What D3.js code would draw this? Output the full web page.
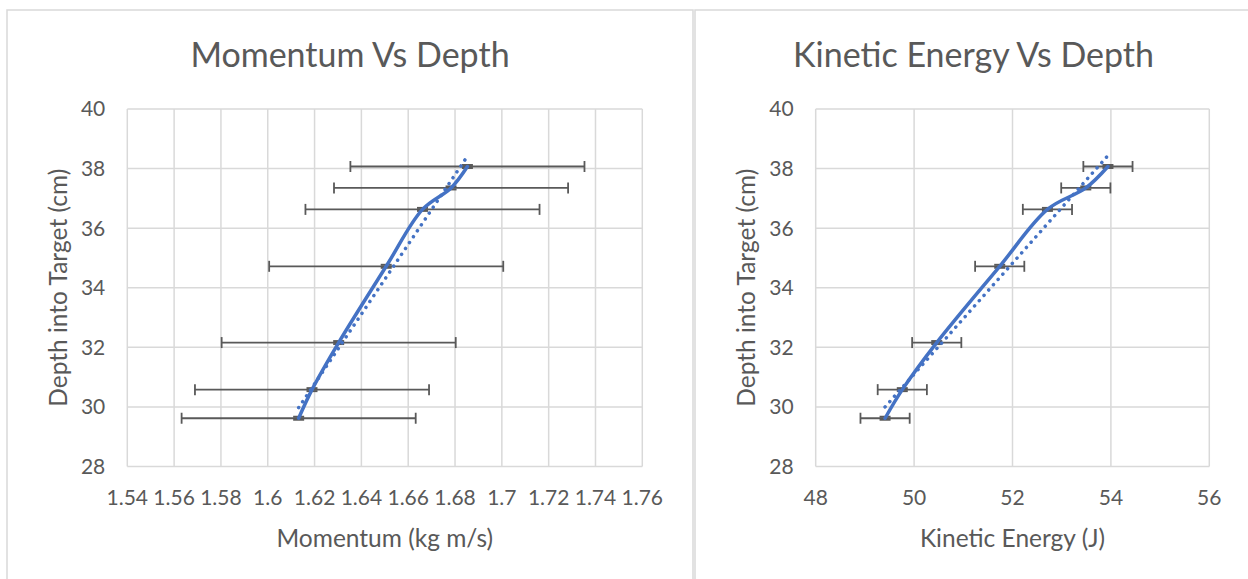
<!DOCTYPE html>
<html>
<head>
<meta charset="utf-8">
<script src="https://d3js.org/d3.v7.min.js"></script>
<style>
  body { margin: 0; background: #fff; }
  text { font-family: Lato, "Open Sans", sans-serif; fill: #595959; }
</style>
</head>
<body>
<script>
// Depth into target (cm), shared by both charts
const depth = [29.62, 30.58, 32.16, 34.72, 36.63, 37.35, 38.07];
// Momentum (kg m/s) and kinetic energy (J) at each depth
const momentum = [1.6132, 1.6189, 1.6303, 1.6506, 1.6661, 1.6783, 1.6853];
const energy = [49.41, 49.76, 50.46, 51.74, 52.71, 53.49, 53.94];
// error bar half widths
const momentumErr = 0.05;
const energyErr = 0.5;
const depthErr = 0.05;

const yTicks = [28, 30, 32, 34, 36, 38, 40];
const momentumTicks = [1.54, 1.56, 1.58, 1.6, 1.62, 1.64, 1.66, 1.68, 1.7, 1.72, 1.74, 1.76];
const energyTicks = [48, 50, 52, 54, 56];

const W = 1248, H = 579;
const blue = "#4472C4", grid = "#d9d9d9", errCol = "#595959";

const svg = d3.select("body").append("svg")
    .attr("width", W)
    .attr("height", H);

// chart frames
svg.append("rect").attr("x", 7).attr("y", 10).attr("width", 686).attr("height", 600)
    .attr("fill", "none").attr("stroke", grid).attr("stroke-width", 1.5);
svg.append("rect").attr("x", 695).attr("y", 10).attr("width", 600).attr("height", 600)
    .attr("fill", "none").attr("stroke", grid).attr("stroke-width", 1.5);

function drawChart(opt) {
    const x = d3.scaleLinear().domain(opt.xDomain).range([opt.left, opt.right]);
    const y = d3.scaleLinear().domain([28, 40]).range([466.5, 109]);
    const g = svg.append("g");

    // gridlines
    g.selectAll(".vg").data(opt.xTicks).join("line")
        .attr("x1", d => x(d)).attr("x2", d => x(d))
        .attr("y1", y(28)).attr("y2", y(40))
        .attr("stroke", grid).attr("stroke-width", 1.5);
    g.selectAll(".hg").data(yTicks).join("line")
        .attr("x1", x.range()[0]).attr("x2", x.range()[1])
        .attr("y1", d => y(d)).attr("y2", d => y(d))
        .attr("stroke", grid).attr("stroke-width", 1.5);

    // tick labels
    g.selectAll(".yl").data(yTicks).join("text")
        .attr("x", opt.left - 22).attr("y", d => y(d))
        .attr("dy", "0.35em").attr("text-anchor", "end")
        .style("font-size", "21px")
        .text(d => d);
    g.selectAll(".xl").data(opt.xTicks).join("text")
        .attr("x", d => x(d)).attr("y", 498)
        .attr("dy", "0.35em").attr("text-anchor", "middle")
        .style("font-size", "21px")
        .text(d => d);

    // titles
    g.append("text").attr("x", opt.titleX).attr("y", 55)
        .attr("dy", "0.35em").attr("text-anchor", "middle")
        .style("font-size", "34px").text(opt.title);
    g.append("text").attr("x", (opt.left + opt.right) / 2).attr("y", 538)
        .attr("dy", "0.35em").attr("text-anchor", "middle")
        .style("font-size", "24.5px").text(opt.xLabel);
    g.append("text")
        .attr("transform", `translate(${opt.left - 69},${(y(28) + y(40)) / 2}) rotate(-90)`)
        .attr("dy", "0.35em").attr("text-anchor", "middle")
        .style("font-size", "24.5px").text("Depth into Target (cm)");

    const pts = opt.xs.map((v, i) => [v, depth[i]]);

    // error bars (horizontal)
    pts.forEach(p => {
        const x0 = x(p[0] - opt.err), x1 = x(p[0] + opt.err), yy = y(p[1]);
        g.append("line").attr("x1", x0).attr("x2", x1).attr("y1", yy).attr("y2", yy)
            .attr("stroke", errCol).attr("stroke-width", 1.8);
        [x0, x1].forEach(xx => g.append("line")
            .attr("x1", xx).attr("x2", xx).attr("y1", yy - 5.5).attr("y2", yy + 5.5)
            .attr("stroke", errCol).attr("stroke-width", 1.8));
        // small vertical error bars
        const ya = y(p[1] - depthErr), yb = y(p[1] + depthErr), xc = x(p[0]);
        [ya, yb].forEach(v => g.append("line")
            .attr("x1", xc - 5.5).attr("x2", xc + 5.5).attr("y1", v).attr("y2", v)
            .attr("stroke", errCol).attr("stroke-width", 2));
    });

    // linear trendline (depth on x-value)
    const mx = d3.mean(pts, d => d[0]), my = d3.mean(pts, d => d[1]);
    const slope = d3.sum(pts, d => (d[0] - mx) * (d[1] - my)) / d3.sum(pts, d => (d[0] - mx) ** 2);
    const icpt = my - slope * mx;
    const xmin = d3.min(opt.xs), xmax = d3.max(opt.xs);
    g.append("line")
        .attr("x1", x(xmin)).attr("y1", y(slope * xmin + icpt))
        .attr("x2", x(xmax)).attr("y2", y(slope * xmax + icpt))
        .attr("stroke", blue).attr("stroke-width", 3.5)
        .attr("stroke-linecap", "round").attr("stroke-dasharray", "0.1 7");

    // smoothed data line
    const line = d3.line().x(d => x(d[0])).y(d => y(d[1])).curve(d3.curveCatmullRom.alpha(0.5));
    g.append("path").datum(pts).attr("d", line)
        .attr("fill", "none").attr("stroke", blue).attr("stroke-width", 3.5)
        .attr("stroke-linecap", "round");
}

drawChart({
    xs: momentum, err: momentumErr,
    xDomain: [1.54, 1.76], xTicks: momentumTicks,
    left: 127.3, right: 642.3, titleX: 350,
    title: "Momentum Vs Depth", xLabel: "Momentum (kg m/s)"
});
drawChart({
    xs: energy, err: energyErr,
    xDomain: [48, 56], xTicks: energyTicks,
    left: 815.7, right: 1209.3, titleX: 973.5,
    title: "Kinetic Energy Vs Depth", xLabel: "Kinetic Energy (J)"
});
</script>
</body>
</html>
